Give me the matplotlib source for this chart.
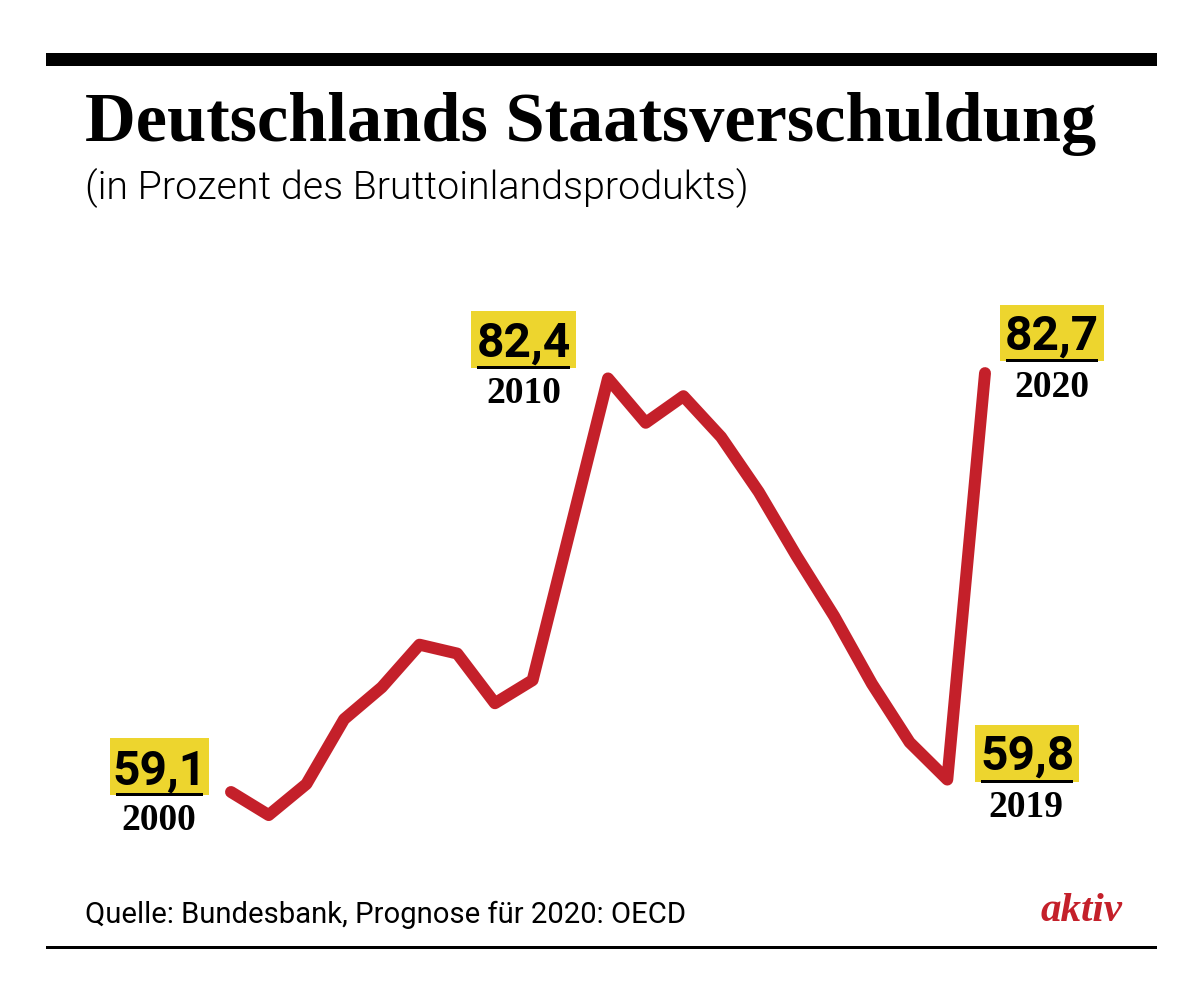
import matplotlib
matplotlib.use("Agg")
import matplotlib.pyplot as plt
from matplotlib.patches import Rectangle

years = list(range(2000, 2021))
debt = [59.1, 57.8, 59.55, 63.2, 65.0, 67.4, 66.9, 64.1, 65.4, 73.9, 82.4,
        79.9, 81.4, 79.1, 76.0, 72.4, 69.0, 65.2, 61.9, 59.8, 82.7]
title = "Deutschlands Staatsverschuldung"
subtitle = "(in Prozent des Bruttoinlandsprodukts)"
source = "Quelle: Bundesbank, Prognose für 2020: OECD"
brand = "aktiv"
callouts = [("59,1", "2000"), ("82,4", "2010"), ("59,8", "2019"), ("82,7", "2020")]

W, H = 1200, 1005
RED, YEL = "#C4202A", "#EDD52E"
fig = plt.figure(figsize=(W/100, H/100), dpi=100, facecolor="white")
ax = fig.add_axes([0, 0, 1, 1])
step, vs = 37.7, 17.75
ax.set_xlim(2000 - 231/step, 2000 + (W-231)/step)
ax.set_ylim(59.1 - (H-792)/vs, 59.1 + 792/vs)
ax.axis("off")
ax.plot(years, debt, color=RED, lw=8.6, solid_capstyle="round", solid_joinstyle="round", zorder=3)

def X(p): return p/W
def Y(p): return 1 - p/H
def bar(x0, x1, y0, y1, c="black", z=2):
    fig.add_artist(Rectangle((X(x0), Y(y1)), (x1-x0)/W, (y1-y0)/H, transform=fig.transFigure,
                             fc=c, ec="none", zorder=z))
def txt(x, y, s, **k):
    k.setdefault("va", "baseline")
    return fig.text(X(x), Y(y), s, **k)

bar(46, 1157, 53, 66)
bar(46, 1157, 946, 949)
txt(85, 141, title, family="Liberation Serif", fontweight="bold", fontsize=50.7)
txt(85, 199, subtitle, family="Roboto", fontweight=300, fontsize=28.4)
txt(85, 923, source, family="Roboto", fontsize=21.1)
txt(1041, 921, brand, family="Liberation Serif", fontweight="bold", style="italic", fontsize=29.5, color=RED)

boxes = [(110, 209, 738, 795, 160, 785, 159, 830),
         (471, 576, 311, 368, 524, 357, 524, 403),
         (975, 1079, 725, 782, 1028, 770, 1026, 817),
         (1000, 1104, 305, 361, 1052, 350, 1052, 397)]
for (v, y), (x0, x1, y0, y1, cx, by, yx, yy) in zip(callouts, boxes):
    bar(x0, x1, y0, y1, YEL, 1)
    bar(x0+6, x1-6, y1-2, y1+1, "black", 2)
    txt(cx, by, v, family="Roboto", fontweight="bold", fontsize=34.5, ha="center", zorder=4)
    txt(yx, yy, y, family="Liberation Serif", fontweight="bold", fontsize=27, ha="center", zorder=4)

fig.savefig("out.png", dpi=100)
